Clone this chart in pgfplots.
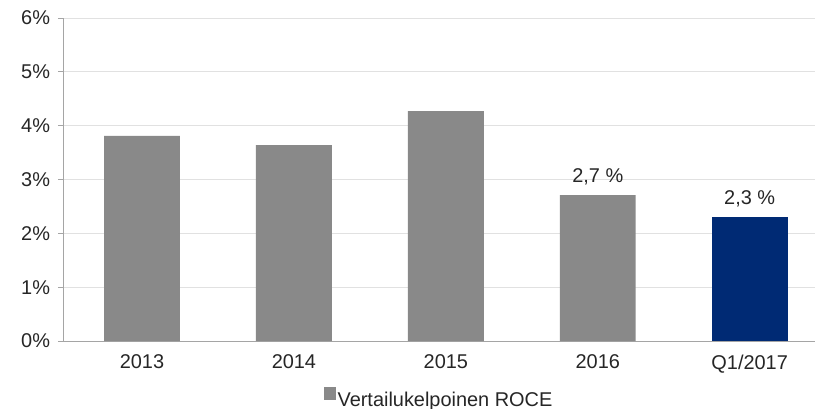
\documentclass[border=0pt]{standalone}
\usepackage{fontspec}
\setmainfont{Liberation Sans}
\usepackage{pgfplots}
\pgfplotsset{compat=1.18}
\usetikzlibrary{calc}
\definecolor{barGray}{RGB}{137,137,137}
\definecolor{navy}{RGB}{0,42,116}
\definecolor{gridGray}{RGB}{225,225,225}
\definecolor{axisGray}{RGB}{165,165,165}
\newcommand{\lblfont}{\fontsize{20}{23}\selectfont}
\begin{document}
\begin{tikzpicture}
\begin{axis}[
  scale only axis, width=752bp, height=323bp,
  ybar, bar width=0.5, bar shift=0pt,
  xmin=-0.52, xmax=4.43, ymin=0, ymax=6,
  ytick={0,1,2,3,4,5,6},
  yticklabels={0\%,1\%,2\%,3\%,4\%,5\%,6\%},
  xtick={0,1,2,3,4},
  xticklabels={2013,2014,2015,2016,Q1/2017},
  axis x line*=bottom, axis y line*=left,
  axis line style={axisGray, line width=0.9pt},
  ymajorgrids, grid style={gridGray, line width=0.9pt},
  tick align=outside, major tick length=5bp,
  x tick style={draw=none}, y tick style={axisGray, line width=0.9pt},
  tick label style={font=\lblfont, text=black!85},
  yticklabel style={xshift=-4.5bp},
  xticklabel style={yshift=-5.5bp},
  legend style={at={(0.5,0)}, anchor=north, yshift=-46bp, draw=none,
    font=\lblfont, text=black!85, inner sep=0pt,
    legend cell align=left},
  legend image code/.code={\fill[barGray] (2bp,-0.5bp) rectangle (14bp,12.5bp);},
]
\coordinate (o) at (rel axis cs:0,0);
\addplot[fill=barGray, draw=none] coordinates {(0,3.81) (1,3.64) (2,4.27) (3,2.71)};
\addlegendentry{Vertailukelpoinen ROCE}
\addplot[fill=navy, draw=none, forget plot] coordinates {(4,2.30)};
\addplot[draw=none, fill=none, forget plot, nodes near coords,
  point meta=explicit symbolic,
  nodes near coords style={font=\lblfont, text=black!85, anchor=base, yshift=13bp}]
  coordinates {(3,2.71) [2,7 \%] (4,2.30) [2,3 \%]};
\end{axis}
\pgfresetboundingbox
\path[use as bounding box] ($(o)+(-63bp,-68bp)$) rectangle ($(o)+(752bp,341bp)$);
\end{tikzpicture}
\end{document}
